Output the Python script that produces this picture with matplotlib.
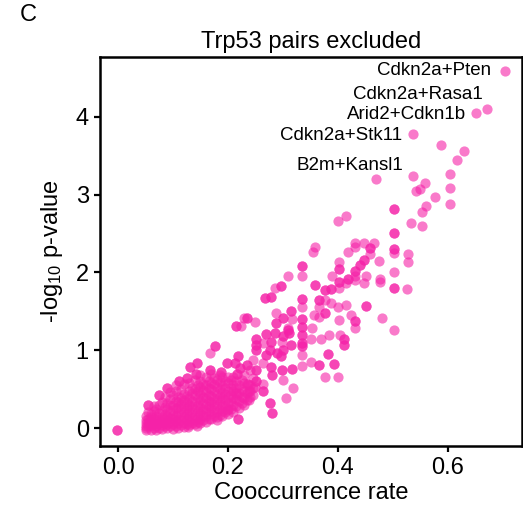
import matplotlib
matplotlib.use("Agg")
import matplotlib.pyplot as plt
import numpy as np

plt.rcParams['font.family'] = ['Liberation Sans', 'DejaVu Sans']
plt.rcParams['mathtext.default'] = 'regular'

# ---- data ----
# isolated / upper points (x = cooccurrence rate, y = -log10 p)
upper_x = [0.705, 0.672, 0.652, 0.536, 0.469,
           0.587, 0.630, 0.616, 0.604, 0.536, 0.559, 0.549, 0.543, 0.604, 0.576,
           0.560, 0.553, 0.604, 0.502, 0.502, 0.533, 0.554, 0.415, 0.401,
           0.502, 0.502, 0.502, 0.502, 0.502, 0.528, 0.528, 0.502, 0.502, 0.502, 0.525,
           0.359, 0.354, 0.431, 0.448, 0.465, 0.431, 0.458, 0.458, 0.458, 0.419, 0.474,
           0.448, 0.448, 0.441, 0.441, 0.402, 0.402, 0.402, 0.431, 0.431, 0.431, 0.452,
           0.418, 0.418, 0.476, 0.476, 0.390, 0.402, 0.402, 0.415, 0.448, 0.431,
           0.335, 0.335, 0.335, 0.309, 0.296, 0.296, 0.286, 0.359, 0.359, 0.377, 0.377,
           0.387, 0.387, 0.402,
           0.278, 0.278, 0.267, 0.267, 0.335, 0.335, 0.365, 0.365, 0.377, 0.387, 0.335,
           0.365, 0.401, 0.415, 0.452, 0.452,
           0.315, 0.315, 0.287, 0.301, 0.301, 0.316, 0.335, 0.335, 0.356, 0.377, 0.377,
           0.365, 0.424, 0.431, 0.431, 0.402, 0.481,
           0.235, 0.235, 0.230, 0.250, 0.214, 0.214, 0.224, 0.287, 0.287, 0.309, 0.335,
           0.335, 0.353, 0.502]
upper_y = [4.59, 4.10, 4.05, 3.78, 3.20,
           3.64, 3.565, 3.44, 3.26, 3.24, 3.15, 3.07, 3.04, 3.09, 2.97,
           2.85, 2.78, 2.88, 2.81, 2.81, 2.63, 2.59, 2.72, 2.66,
           2.51, 2.51, 2.30, 2.30, 2.25, 2.24, 2.13, 2.01, 1.80, 1.80, 1.79,
           2.33, 2.26, 2.38, 2.38, 2.38, 2.33, 2.31, 2.31, 2.24, 2.26, 2.15,
           2.16, 2.16, 2.10, 2.10, 2.14, 2.05, 2.05, 2.02, 2.02, 1.95, 1.95,
           1.92, 1.92, 1.92, 1.88, 1.95, 1.88, 1.88, 1.86, 1.86, 1.90,
           2.08, 2.08, 1.95, 1.95, 1.83, 1.83, 1.80, 1.84, 1.84, 1.77, 1.77,
           1.79, 1.79, 1.80,
           1.69, 1.69, 1.67, 1.67, 1.66, 1.66, 1.64, 1.64, 1.64, 1.61, 1.56,
           1.55, 1.56, 1.58, 1.57, 1.57,
           1.50, 1.50, 1.48, 1.41, 1.41, 1.40, 1.40, 1.40, 1.45, 1.48, 1.48,
           1.43, 1.45, 1.37, 1.37, 1.39, 1.41,
           1.42, 1.42, 1.42, 1.36, 1.31, 1.31, 1.31, 1.35, 1.35, 1.28, 1.30,
           1.30, 1.28, 1.26]

# middle band points
mid_x = [0.431, 0.404, 0.411, 0.411, 0.411, 0.411, 0.383, 0.369, 0.352,
         0.335, 0.335, 0.335, 0.335, 0.335, 0.335, 0.311, 0.311, 0.310, 0.310,
         0.301, 0.301, 0.285, 0.285, 0.269, 0.269, 0.251, 0.251, 0.251, 0.251,
         0.251, 0.251, 0.264, 0.279, 0.279, 0.299, 0.315, 0.315, 0.300, 0.300,
         0.289, 0.289, 0.276, 0.276, 0.269, 0.269, 0.296, 0.296, 0.335, 0.335,
         0.351, 0.366, 0.366, 0.382, 0.382, 0.393, 0.393, 0.377, 0.401,
         0.316, 0.316, 0.298, 0.298, 0.279, 0.279, 0.281, 0.281, 0.301, 0.319,
         0.305, 0.280, 0.280, 0.276, 0.276, 0.264, 0.264, 0.264, 0.246, 0.251,
         0.251, 0.240, 0.234, 0.234, 0.219, 0.219, 0.213, 0.213, 0.222, 0.222,
         0.199, 0.199, 0.188, 0.188, 0.216, 0.216, 0.251, 0.251, 0.237, 0.249,
         0.264, 0.239, 0.239, 0.216, 0.219, 0.219, 0.198, 0.181, 0.176, 0.176,
         0.167, 0.143, 0.143, 0.131, 0.131, 0.142, 0.142, 0.167, 0.167, 0.125,
         0.125, 0.111, 0.111, 0.089, 0.089, 0.075, 0.075, 0.055, 0.055, 0.143,
         0.128, -0.002, -0.002]
mid_y = [1.28, 1.20, 1.15, 1.15, 1.07, 1.07, 1.20, 1.15, 1.15,
         1.20, 1.20, 1.09, 1.09, 1.05, 1.05, 1.22, 1.22, 1.26, 1.26,
         1.18, 1.18, 1.22, 1.22, 1.21, 1.21, 1.15, 1.15, 1.07, 1.07,
         1.00, 1.00, 1.09, 1.11, 1.11, 1.11, 1.07, 1.07, 1.00, 1.00,
         0.97, 0.97, 1.00, 1.00, 0.94, 0.94, 0.92, 0.92, 0.94, 0.80,
         0.85, 0.81, 0.81, 0.95, 0.95, 0.82, 0.82, 0.65, 0.65,
         0.76, 0.76, 0.75, 0.75, 0.79, 0.79, 0.68, 0.68, 0.62, 0.51,
         0.38, 0.19, 0.19, 0.32, 0.32, 0.47, 0.47, 0.83, 0.87, 0.75,
         0.75, 0.75, 0.81, 0.81, 0.92, 0.92, 0.83, 0.83, 0.77, 0.77,
         0.83, 0.83, 0.72, 0.72, 0.70, 0.70, 0.60, 0.60, 0.57, 0.53,
         0.57, 0.47, 0.36, 0.42, 0.11, 0.11, 0.23, 0.10, 1.05, 1.05,
         0.96, 0.84, 0.84, 0.79, 0.79, 0.70, 0.70, 0.75, 0.75, 0.64,
         0.64, 0.60, 0.60, 0.51, 0.51, 0.42, 0.42, 0.30, 0.30, 0.02,
         0.01, -0.03, -0.03]

# dense lower-left cluster, listed column by column
cluster_cols = [0.05, 0.055, 0.06, 0.065, 0.07, 0.075, 0.08, 0.085, 0.09, 0.095,
                0.10, 0.105, 0.11, 0.115, 0.12, 0.125, 0.13, 0.135, 0.14, 0.145,
                0.15, 0.155, 0.16, 0.165, 0.17, 0.175, 0.18, 0.185, 0.19, 0.195,
                0.20, 0.205, 0.21, 0.215, 0.22, 0.225, 0.23, 0.235, 0.24, 0.245]
cluster_vals = [
    [-0.03, 0.0, 0.03, 0.06, 0.10, 0.15],
    [0.02, 0.08, 0.12, 0.20],
    [-0.02, 0.04, 0.09, 0.14, 0.18],
    [0.0, 0.05, 0.11, 0.22, 0.28],
    [-0.02, 0.03, 0.07, 0.12, 0.16, 0.25],
    [0.0, 0.06, 0.10, 0.19, 0.30],
    [-0.01, 0.04, 0.08, 0.14, 0.22, 0.34],
    [0.02, 0.07, 0.12, 0.18, 0.27, 0.40],
    [0.0, 0.05, 0.10, 0.16, 0.24, 0.32],
    [0.03, 0.08, 0.13, 0.20, 0.29, 0.37, 0.46],
    [-0.01, 0.05, 0.11, 0.17, 0.23, 0.30, 0.42],
    [0.02, 0.09, 0.15, 0.26, 0.35, 0.48, 0.55],
    [0.0, 0.06, 0.12, 0.19, 0.27, 0.33, 0.40],
    [0.04, 0.10, 0.17, 0.24, 0.31, 0.38, 0.50],
    [0.01, 0.07, 0.14, 0.21, 0.28, 0.36, 0.44, 0.56],
    [0.05, 0.11, 0.18, 0.26, 0.34, 0.41],
    [0.04, 0.09, 0.16, 0.23, 0.30, 0.39, 0.48, 0.58],
    [0.06, 0.13, 0.20, 0.28, 0.35, 0.45, 0.52],
    [0.05, 0.10, 0.17, 0.25, 0.33, 0.42, 0.50, 0.62],
    [0.08, 0.14, 0.22, 0.30, 0.38, 0.47, 0.55],
    [0.06, 0.12, 0.19, 0.27, 0.36, 0.44, 0.53, 0.60, 0.68],
    [0.10, 0.17, 0.24, 0.32, 0.40, 0.49, 0.57],
    [0.08, 0.15, 0.22, 0.30, 0.38, 0.46, 0.55, 0.65],
    [0.12, 0.20, 0.28, 0.35, 0.43, 0.52, 0.60],
    [0.12, 0.18, 0.26, 0.33, 0.41, 0.50, 0.58, 0.70],
    [0.15, 0.23, 0.31, 0.39, 0.47, 0.56, 0.64],
    [0.14, 0.20, 0.28, 0.36, 0.44, 0.53, 0.62],
    [0.17, 0.25, 0.33, 0.41, 0.50, 0.59, 0.68],
    [0.15, 0.22, 0.30, 0.38, 0.46, 0.55, 0.65],
    [0.20, 0.28, 0.36, 0.44, 0.52, 0.60],
    [0.18, 0.25, 0.32, 0.40, 0.48, 0.58, 0.66],
    [0.25, 0.34, 0.43, 0.51, 0.62],
    [0.21, 0.30, 0.38, 0.47, 0.55, 0.65],
    [0.28, 0.37, 0.45, 0.52, 0.60],
    [0.26, 0.35, 0.45, 0.55],
    [0.32, 0.40, 0.50, 0.62],
    [0.30, 0.39, 0.48, 0.58, 0.68],
    [0.36, 0.45, 0.57],
    [0.40, 0.47, 0.55],
    [0.42, 0.52, 0.64],
]

labels = ["Cdkn2a+Pten", "Cdkn2a+Rasa1", "Arid2+Cdkn1b", "Cdkn2a+Stk11", "B2m+Kansl1"]
label_idx = [0, 1, 2, 3, 4]

cluster_x = []
cluster_y = []
for cx, ys in zip(cluster_cols, cluster_vals):
    for yv in ys:
        cluster_x.append(cx)
        cluster_y.append(yv)

x = np.array(upper_x + mid_x + cluster_x)
y = np.array(upper_y + mid_y + cluster_y)

# ---- figure ----
fig = plt.figure(figsize=(5.23, 5.12), dpi=100)
ax = fig.add_axes([0.191, 0.129, 0.807, 0.760])

ax.scatter(x, y, s=54, color='#F522A8', alpha=0.6, linewidths=0, zorder=2)

# label offsets (pixels) relative to each labelled point
offsets = [(-14, 0), (-5, 14), (-10, -2), (-10, -2), (27, 14)]
for lab, i, off in zip(labels, label_idx, offsets):
    ax.annotate(lab, (upper_x[i], upper_y[i]), xytext=off, textcoords='offset pixels',
                ha='right', va='center', fontsize=13.5, color='black')

ax.set_xlim(-0.033, 0.735)
ax.set_ylim(-0.23, 4.77)
ax.set_xticks([0.0, 0.2, 0.4, 0.6])
ax.set_xticklabels(["0.0", "0.2", "0.4", "0.6"])
ax.set_yticks([0, 1, 2, 3, 4])
ax.set_yticklabels(["0", "1", "2", "3", "4"])

for s in ax.spines.values():
    s.set_linewidth(1.8)
    s.set_color('black')
ax.tick_params(axis='both', direction='out', length=4, width=1.6, labelsize=17,
               colors='black', pad=4)

ax.set_xlabel("Cooccurrence rate", fontsize=17, labelpad=2)
ax.set_ylabel(r"-log$_{10}$ p-value", fontsize=17, labelpad=8)
ax.set_title("Trp53 pairs excluded", fontsize=17, pad=6)

fig.text(0.038, 0.97, "C", fontsize=17, ha='left', va='center')

fig.savefig("out.png", dpi=100)
